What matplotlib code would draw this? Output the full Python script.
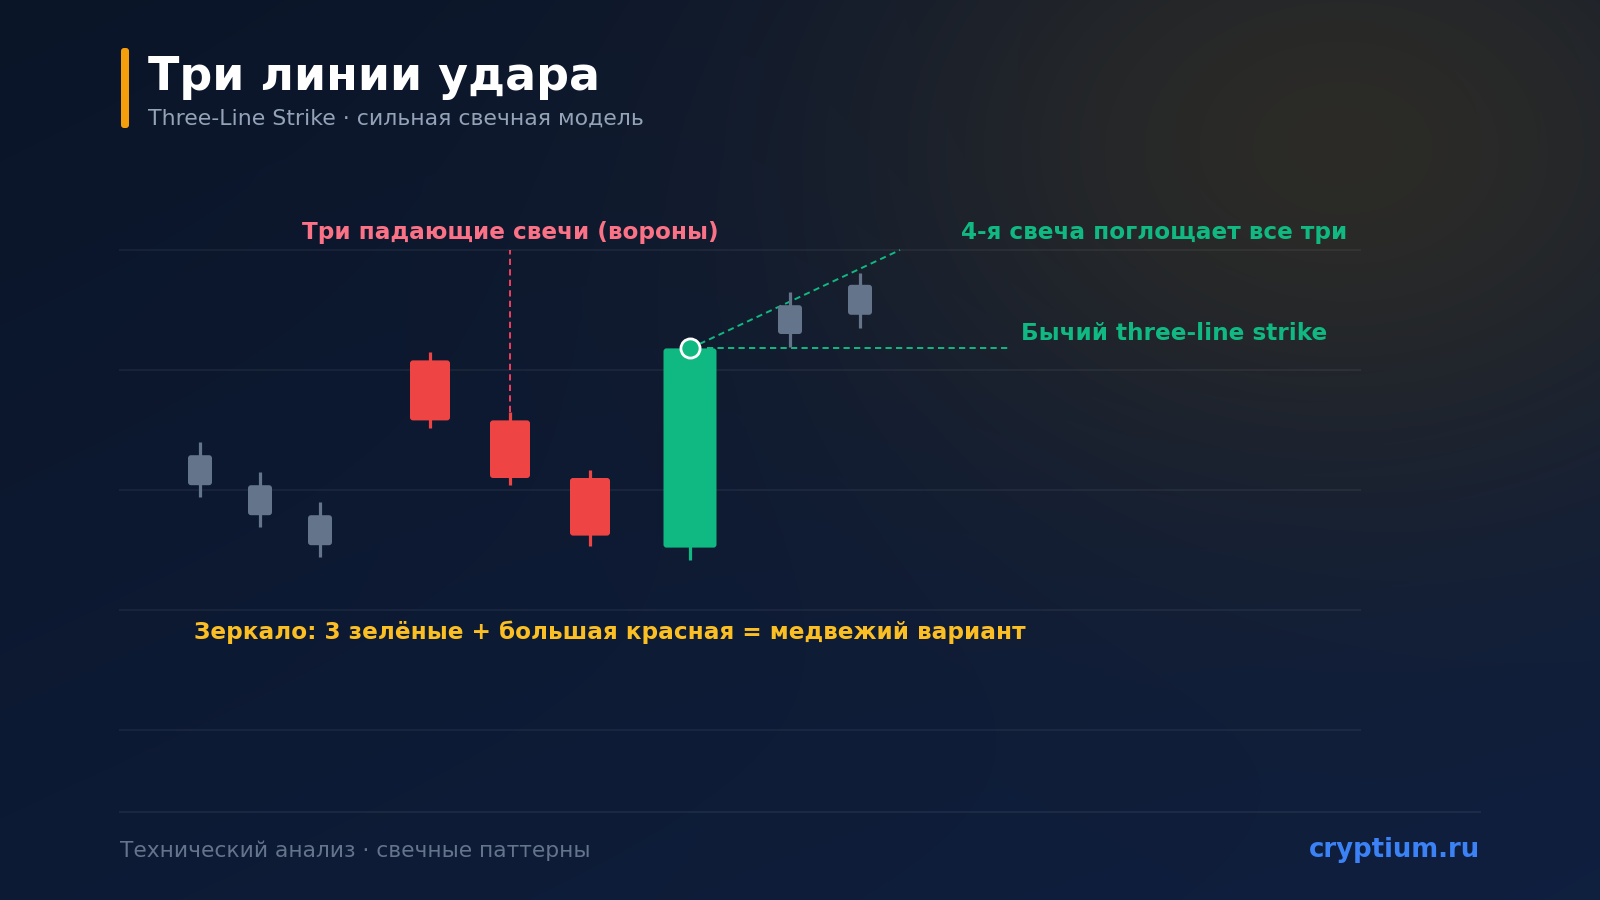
import numpy as np
import matplotlib
matplotlib.use("Agg")
import matplotlib.pyplot as plt
from matplotlib.patches import FancyBboxPatch

# ---------------- data ----------------
roles = ["ctx", "ctx", "ctx", "bear", "bear", "bear", "strike", "ctx", "ctx"]
opens = [102.9, 100.4, 97.9, 110.8, 105.8, 101.0, 95.2, 113.0, 114.6]
highs = [104.0, 101.5, 99.0, 111.5, 106.5, 101.7, 111.8, 116.5, 118.1]
lows = [99.4, 96.9, 94.4, 105.2, 100.4, 95.3, 94.2, 111.9, 113.5]
closes = [100.4, 97.9, 95.4, 105.8, 101.0, 96.2, 111.8, 115.4, 117.1]
grid_levels = [80, 90, 100, 110, 120]

title = "Три линии удара"
subtitle = "Three-Line Strike · сильная свечная модель"
label_bear = "Три падающие свечи (вороны)"
label_engulf = "4-я свеча поглощает все три"
label_bull = "Бычий three-line strike"
label_mirror = "Зеркало: 3 зелёные + большая красная = медвежий вариант"
footer_left = "Технический анализ · свечные паттерны"
footer_right = "cryptium.ru"

# ---------------- layout / style ----------------
x_pos = [200, 260, 320, 430, 510, 590, 690, 790, 860]
body_w = {"ctx": 24, "bear": 40, "strike": 53}
colors = {"ctx": "#64748b", "bear": "#ef4444", "strike": "#10b981"}
W, H = 1600, 900

fig = plt.figure(figsize=(16, 9), dpi=100)

# background gradient
yy, xx = np.mgrid[0:H, 0:W].astype(float)
t = 0.45 * xx / W + 0.55 * yy / H
c0 = np.array([11, 21, 40]) / 255.0
c1 = np.array([15, 31, 63]) / 255.0
img = c0[None, None, :] * (1 - t[..., None]) + c1[None, None, :] * t[..., None]
glow_c = np.array([46, 44, 38]) / 255.0
wgt = 0.92 * np.exp(-(((xx - 1340) / 500.0) ** 2 + ((yy - 145) / 370.0) ** 2))
img = img * (1 - wgt[..., None]) + glow_c[None, None, :] * wgt[..., None]

bg = fig.add_axes([0, 0, 1, 1], zorder=0)
bg.imshow(img, extent=[0, W, H, 0], aspect="auto", interpolation="bilinear")
bg.set_xlim(0, W)
bg.set_ylim(H, 0)
bg.axis("off")

# overlay axes for decorations in pixel units
deco = fig.add_axes([0, 0, 1, 1], zorder=1)
deco.set_xlim(0, W)
deco.set_ylim(H, 0)
deco.axis("off")
deco.patch.set_alpha(0)

deco.add_patch(FancyBboxPatch((121, 48), 8, 80,
                              boxstyle="round,pad=0,rounding_size=3",
                              fc="#f59e0b", ec="none"))
deco.text(148, 78, title, color="#ffffff", fontsize=33.0, fontweight="bold",
          va="center", ha="left")
deco.text(148, 119, subtitle, color="#94a3b8", fontsize=15.8,
          va="center", ha="left")
deco.plot([120, 1480], [812, 812], color="#ffffff", alpha=0.06, lw=1.5)
deco.text(120, 851, footer_left, color="#64748b", fontsize=15.7,
          va="center", ha="left")
deco.text(1480, 850, footer_right, color="#3b82f6", fontsize=18.7,
          fontweight="bold", va="center", ha="right")

# main chart axes: x in pixel-like units, y in price
left, right, top, bottom = 120, 1360, 250, 730
ax = fig.add_axes([left / W, 1 - bottom / H, (right - left) / W, (bottom - top) / H],
                  zorder=2)
ax.patch.set_alpha(0)
ax.set_xlim(left, right)
ax.set_ylim(80, 120)
for s in ax.spines.values():
    s.set_visible(False)
ax.set_xticks([])
ax.set_yticks([])
for g in grid_levels:
    ax.axhline(g, color="#ffffff", alpha=0.05, lw=1.5, zorder=1, clip_on=False)

px_per_unit = (bottom - top) / (120 - 80)
for xp, r, o, h, l, c in zip(x_pos, roles, opens, highs, lows, closes):
    col = colors[r]
    ax.plot([xp, xp], [l, h], color=col, lw=2.3, solid_capstyle="butt", zorder=3)
    bw = body_w[r]
    lo, hi = min(o, c), max(o, c)
    ax.add_patch(FancyBboxPatch((xp - bw / 2, lo), bw, hi - lo,
                                boxstyle="round,pad=0,rounding_size=3",
                                mutation_aspect=1 / px_per_unit,
                                fc=col, ec="none", zorder=4))

# annotations
i_strike = roles.index("strike")
sx, sy = x_pos[i_strike], closes[i_strike]
bear_idx = [i for i, r in enumerate(roles) if r == "bear"]
mid_bear = bear_idx[1]

dash = (0, (3.2, 2.2))
ax.plot([x_pos[mid_bear], x_pos[mid_bear]], [highs[mid_bear], 120],
        color="#f43f5e", lw=1.4, ls=dash, zorder=2, clip_on=False)
ax.plot([sx + 17, 1010], [sy, sy], color="#10b981", lw=1.4,
        ls=dash, zorder=2)
ax.plot([sx, 900], [sy, 120], color="#10b981", lw=1.4,
        ls=dash, zorder=2, clip_on=False)
ax.scatter([sx], [sy], s=190, facecolor="#10b981", edgecolor="#ffffff",
           linewidth=2, zorder=6)

def price_at(ypix):
    return 120 - (ypix - top) / px_per_unit

fs_ann = 16.7
ax.text(x_pos[mid_bear], price_at(232), label_bear, color="#fb7185",
        fontsize=fs_ann, fontweight="bold", ha="center", va="center", clip_on=False)
ax.text(1347, price_at(232), label_engulf, color="#10b981",
        fontsize=fs_ann, fontweight="bold", ha="right", va="center", clip_on=False)
ax.text(1021, price_at(333), label_bull, color="#10b981",
        fontsize=fs_ann, fontweight="bold", ha="left", va="center", clip_on=False)
ax.text(194, price_at(632), label_mirror, color="#fbbf24",
        fontsize=fs_ann, fontweight="bold", ha="left", va="center", clip_on=False)

fig.savefig("out.png", dpi=100)
